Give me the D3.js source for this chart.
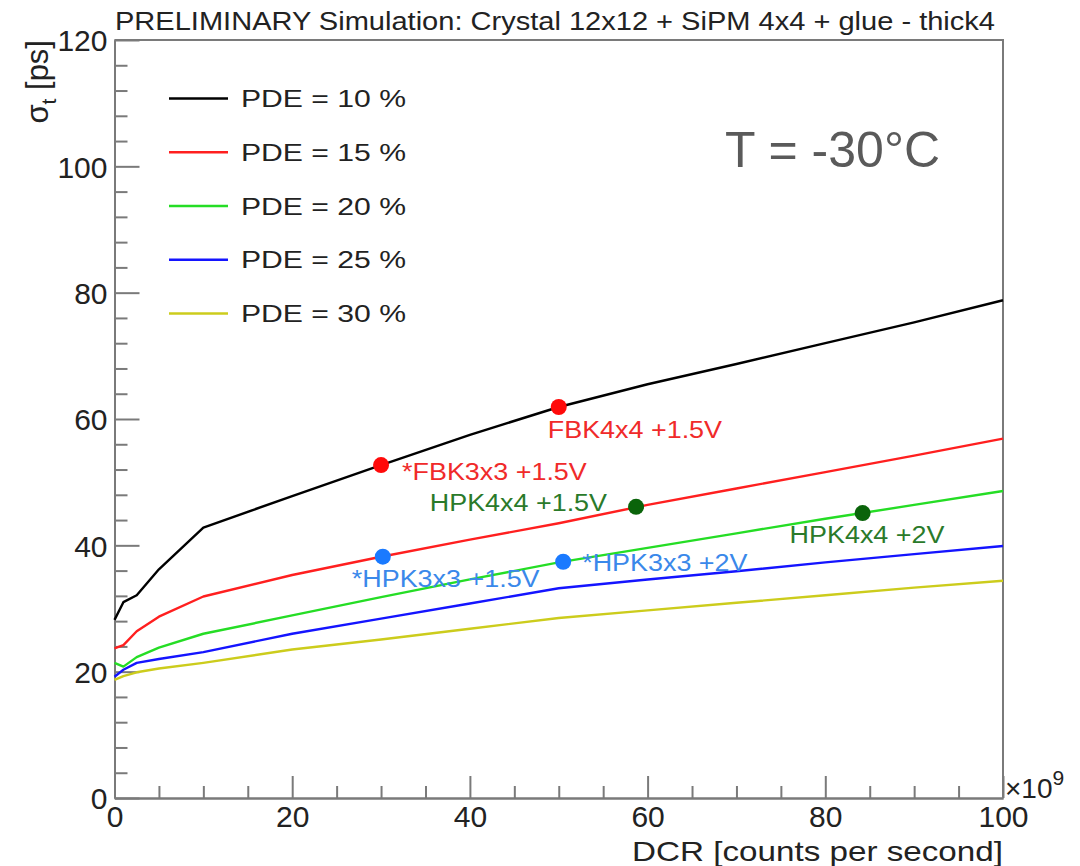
<!DOCTYPE html>
<html>
<head>
<meta charset="utf-8">
<script src="https://cdn.jsdelivr.net/npm/d3@7"></script>
<style>
  html, body { margin: 0; padding: 0; background: #fff; }
  svg { display: block; }
  text { font-family: "Liberation Sans", Arial, Helvetica, sans-serif; }
</style>
</head>
<body>
<svg id="chart" width="1080" height="866"></svg>
<script>
// DCR sampling points (units of 1e9 counts per second)
const dcr = [0, 1, 2.5, 5, 10, 20, 30, 40, 50, 60, 70, 80, 90, 100];

// Simulated time resolution sigma_t [ps] for each PDE
const pde10 = [28.2, 31.0, 32.1, 36.2, 42.8, 47.8, 52.7, 57.5, 61.9, 65.5, 68.7, 72.0, 75.3, 78.8];
const pde15 = [23.7, 24.2, 26.4, 28.7, 31.9, 35.3, 38.2, 40.9, 43.5, 46.4, 49.0, 51.6, 54.2, 56.9];
const pde20 = [21.4, 20.8, 22.3, 23.8, 26.0, 28.9, 31.8, 34.6, 37.3, 39.6, 41.9, 44.2, 46.4, 48.6];
const pde25 = [19.2, 20.3, 21.4, 22.0, 23.1, 26.0, 28.4, 30.8, 33.2, 34.6, 35.9, 37.3, 38.6, 39.9];
const pde30 = [18.7, 19.3, 19.9, 20.5, 21.4, 23.5, 25.1, 26.8, 28.5, 29.7, 30.9, 32.1, 33.3, 34.4];

const seriesNames = ["PDE = 10 %", "PDE = 15 %", "PDE = 20 %", "PDE = 25 %", "PDE = 30 %"];
const seriesValues = [pde10, pde15, pde20, pde25, pde30];

// Measured SiPM working points
const sipmNames = ["FBK4x4 +1.5V", "*FBK3x3 +1.5V", "HPK4x4 +1.5V", "HPK4x4 +2V", "*HPK3x3 +1.5V", "*HPK3x3 +2V"];
const sipmDcr = [50, 30, 58.7, 84.2, 30.2, 50.5];
const sipmSigma = [61.9, 52.7, 46.1, 45.1, 38.2, 37.4];

// Axis tick values
const xMajorTicks = [0, 20, 40, 60, 80, 100];
const yMajorTicks = [0, 20, 40, 60, 80, 100, 120];

// ---- styling ----
const seriesColors = ["#000000", "#ff1f1f", "#25dd25", "#1414ff", "#cccc1c"];
const sipmDotColors = ["#ff0a0a", "#ff0a0a", "#0a640a", "#0a640a", "#1a7aff", "#1a7aff"];
const sipmTextColors = ["#f02a2a", "#f02a2a", "#2a7a2a", "#2a7a2a", "#3a88ea", "#3a88ea"];
// label placement relative to each dot: [dx, dy, anchor]
const sipmLabelPlace = [[-11, 31, "start"], [21, 15, "start"], [-29, 4, "end"],
                        [-73, 30, "start"], [-31, 30, "start"], [19, 9, "start"]];
const axisGray = "#7a7a7a";

const svg = d3.select("#chart");

const x = d3.scaleLinear().domain([0, 100]).range([114.5, 1003]);
const y = d3.scaleLinear().domain([0, 120]).range([798, 40]);

// frame (top and right edges)
svg.append("path")
  .attr("d", `M${x(0)},${y(120)}H${x(100)}V${y(0)}`)
  .attr("fill", "none").attr("stroke", axisGray).attr("stroke-width", 2);

// x axis: minor ticks every 5, major every 20
const xMinor = d3.range(0, 100.01, 5).filter(v => v % 20 !== 0);
svg.append("g").attr("transform", `translate(0,${y(0)})`)
  .call(d3.axisBottom(x).tickValues(xMinor).tickSize(-12).tickSizeOuter(0).tickFormat(""))
  .call(g => g.selectAll("line,path").attr("stroke", axisGray).attr("stroke-width", 2));
svg.append("g").attr("transform", `translate(0,${y(0)})`)
  .call(d3.axisBottom(x).tickValues(xMajorTicks).tickSize(-22).tickSizeOuter(0).tickPadding(8).tickFormat(d3.format("d")))
  .call(g => g.selectAll("line,path").attr("stroke", axisGray).attr("stroke-width", 2))
  .call(g => g.selectAll("text").attr("fill", "#222").attr("font-size", 30)
    .attr("font-family", "Liberation Sans, Arial, sans-serif"));

// y axis: minor ticks every 4, major every 20
const yMinor = d3.range(0, 120.01, 4).filter(v => v % 20 !== 0);
svg.append("g").attr("transform", `translate(${x(0)},0)`)
  .call(d3.axisLeft(y).tickValues(yMinor).tickSize(-13).tickSizeOuter(0).tickFormat(""))
  .call(g => g.selectAll("line,path").attr("stroke", axisGray).attr("stroke-width", 2));
svg.append("g").attr("transform", `translate(${x(0)},0)`)
  .call(d3.axisLeft(y).tickValues(yMajorTicks).tickSize(-25).tickSizeOuter(0).tickPadding(7).tickFormat(d3.format("d")))
  .call(g => g.selectAll("line,path").attr("stroke", axisGray).attr("stroke-width", 2))
  .call(g => g.selectAll("text").attr("fill", "#222").attr("font-size", 30)
    .attr("font-family", "Liberation Sans, Arial, sans-serif").attr("dy", "0.36em"));

// curves
const line = d3.line().x((d, i) => x(dcr[i])).y(d => y(d));
svg.append("g").selectAll("path").data(seriesValues).join("path")
  .attr("d", line)
  .attr("fill", "none")
  .attr("stroke", (d, i) => seriesColors[i])
  .attr("stroke-width", 2.4)
  .attr("stroke-linejoin", "round");

// working points
const pts = svg.append("g");
pts.selectAll("circle").data(sipmNames).join("circle")
  .attr("cx", (d, i) => x(sipmDcr[i]))
  .attr("cy", (d, i) => y(sipmSigma[i]))
  .attr("r", 8)
  .attr("fill", (d, i) => sipmDotColors[i]);
pts.selectAll("text").data(sipmNames).join("text")
  .attr("x", (d, i) => x(sipmDcr[i]) + sipmLabelPlace[i][0])
  .attr("y", (d, i) => y(sipmSigma[i]) + sipmLabelPlace[i][1])
  .attr("text-anchor", (d, i) => sipmLabelPlace[i][2])
  .attr("font-family", "DejaVu Sans, sans-serif")
  .attr("font-size", 23)
  .attr("fill", (d, i) => sipmTextColors[i])
  .text(d => d)
  .each(function () {
    // labels are drawn slightly wide
    const w = this.getComputedTextLength();
    d3.select(this).attr("textLength", w * 1.17).attr("lengthAdjust", "spacingAndGlyphs");
  });

// legend
const legend = svg.append("g");
const legendRow = d3.scaleLinear().domain([0, 4]).range([98.5, 313.5]);
seriesNames.forEach((name, i) => {
  legend.append("line")
    .attr("x1", 169).attr("x2", 228)
    .attr("y1", legendRow(i)).attr("y2", legendRow(i))
    .attr("stroke", seriesColors[i]).attr("stroke-width", 2.4);
  legend.append("text")
    .attr("x", 241).attr("y", legendRow(i) + 8.5)
    .attr("font-size", 23).attr("fill", "#222")
    .attr("textLength", 165).attr("lengthAdjust", "spacingAndGlyphs")
    .text(name);
});

// title
svg.append("text")
  .attr("x", 115).attr("y", 30)
  .attr("font-size", 25).attr("fill", "#222")
  .attr("textLength", 880).attr("lengthAdjust", "spacingAndGlyphs")
  .text("PRELIMINARY Simulation: Crystal 12x12 + SiPM 4x4 + glue - thick4");

// temperature note
svg.append("text")
  .attr("x", 725).attr("y", 167)
  .attr("font-size", 50).attr("fill", "#5a5a5a")
  .text("T = -30°C");

// x axis title and exponent
svg.append("text")
  .attr("x", 1003).attr("y", 861)
  .attr("text-anchor", "end")
  .attr("font-size", 28).attr("fill", "#222")
  .attr("textLength", 371).attr("lengthAdjust", "spacingAndGlyphs")
  .text("DCR [counts per second]");
const expo = svg.append("text").attr("x", 1005).attr("y", 798).attr("font-size", 28).attr("fill", "#222");
expo.append("tspan").text("×10");
expo.append("tspan").attr("font-size", 21).attr("dy", -13).text("9");

// y axis title
const yt = svg.append("text")
  .attr("transform", "translate(48,40) rotate(-90)")
  .attr("text-anchor", "end")
  .attr("font-size", 31).attr("fill", "#222");
yt.append("tspan").text("σ");
yt.append("tspan").attr("font-size", 21).attr("dy", 8).text("t");
yt.append("tspan").attr("dy", -8).text(" [ps]");
</script>
</body>
</html>
